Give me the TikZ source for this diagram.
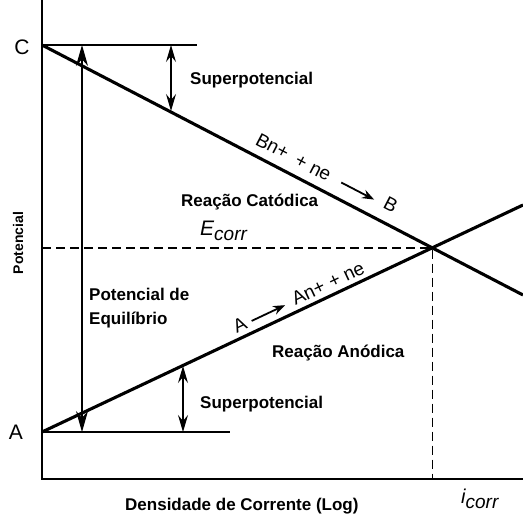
\documentclass[tikz,border=0pt]{standalone}
\usepackage{fontspec}
\setmainfont{Liberation Sans}
\usetikzlibrary{arrows.meta}
\begin{document}
\begin{tikzpicture}[x=1pt,y=-1pt,
  lbl/.style={font=\fontsize{17}{19}\selectfont\bfseries, inner sep=0pt},
  rxn/.style={font=\fontsize{19}{21}\selectfont, inner sep=0pt},
  big/.style={font=\fontsize{21}{23}\selectfont, inner sep=0pt},
  curve/.style={line width=3.1pt},
  axis/.style={line width=2.5pt},
  level/.style={line width=1.8pt},
  guide/.style={line width=1.5pt, dash pattern=on 9pt off 5pt},
  eqarrow/.style={line width=1.2pt, {Stealth[length=21pt,width=12pt]}-{Stealth[length=21pt,width=12pt]}},
  sparrow/.style={line width=1.2pt, {Stealth[length=17pt,width=10pt,inset=6pt]}-{Stealth[length=17pt,width=10pt,inset=6pt]}},
  rxarrow/.style={line width=1.8pt, -{Stealth[length=12pt,width=9pt]}},
]
\useasboundingbox (0,0) rectangle (523,515);
% key points
\coordinate (top) at (42,0);
\coordinate (O) at (42,479);
\coordinate (xend) at (523,479);
\coordinate (C0) at (42,45);
\coordinate (Cend) at (523,295);
\coordinate (A0) at (42,432);
\coordinate (Aend) at (523,205);
\coordinate (Clev) at (197,45);
\coordinate (Alev) at (230,432);
\coordinate (X) at (intersection of C0--Cend and A0--Aend);
\coordinate (Eleft) at (42,0 |- X);
\coordinate (Xbot) at (X |- O);
% axes
\draw[axis] (top) -- (O) -- (xend);
% level lines
\draw[level] (C0) -- (Clev);
\draw[level] (A0) -- (Alev);
% guides
\draw[guide] (Eleft) -- (X) -- (Xbot);
% polarization lines
\draw[curve] (C0) -- (Cend);
\draw[curve] (A0) -- (Aend);
% arrows
\coordinate (eqT) at (82,45);
\coordinate (eqB) at (82,432);
\draw[eqarrow] (eqT) -- (eqB);
\coordinate (s1T) at (171,45);
\coordinate (s1B) at (171,111);
\draw[sparrow] (s1T) -- (s1B);
\coordinate (s2T) at (183,366);
\coordinate (s2B) at (183,432);
\draw[sparrow] (s2T) -- (s2B);
% axis labels
\node[big] (lC) at (22,47) {C};
\node[big] (lA) at (16,432) {A};
\node[lbl, font=\fontsize{14}{16}\selectfont\bfseries, rotate=90] (lpot) at (18,243) {Potencial};
\node[lbl, anchor=base west] (lden) at (125,510) {Densidade de Corrente (Log)};
\node[inner sep=0pt, anchor=base west, font=\fontsize{20}{22}\selectfont\itshape] (licorr) at (461,503) {i\raisebox{-5pt}{\fontsize{19}{21}\selectfont corr}};
% region labels
\node[lbl, anchor=base west] (lsp1) at (190,84) {Superpotencial};
\node[lbl, anchor=base west] (lsp2) at (200,408) {Superpotencial};
\node[lbl, anchor=base west] (lcat) at (181,206) {Reação Catódica};
\node[lbl, anchor=base west] (lano) at (272,357) {Reação Anódica};
\node[lbl, anchor=base west] (lpe1) at (89,300) {Potencial de};
\node[lbl, anchor=base west] (lpe2) at (89,324) {Equilíbrio};
\node[inner sep=0pt, anchor=base west, font=\fontsize{21}{23}\selectfont\itshape] (lEcorr) at (200,235) {E\raisebox{-5pt}{\fontsize{19}{21}\selectfont corr}};
% cathodic reaction text
\begin{scope}[shift={(C0)}, rotate=-27.46, transform shape]
  \node[rxn, anchor=base west] (rB) at (234,-10) {Bn+\hspace{10pt}+ ne};
  \coordinate (rcs) at (329,-16);
  \coordinate (rce) at (366,-16);
  \draw[rxarrow] (rcs) -- (rce);
  \node[rxn, anchor=base] (rBB) at (383,-13) {B};
\end{scope}
% anodic reaction text
\begin{scope}[shift={(A0)}, rotate=25.26, transform shape]
  \node[rxn, anchor=base west] (rA) at (218,-6) {A};
  \coordinate (ras) at (237,-11);
  \coordinate (rae) at (274,-11);
  \draw[rxarrow] (ras) -- (rae);
  \node[rxn, anchor=base west] (rAn) at (283,-6) {An+\hspace{6pt}+ ne};
\end{scope}
\end{tikzpicture}
\end{document}
